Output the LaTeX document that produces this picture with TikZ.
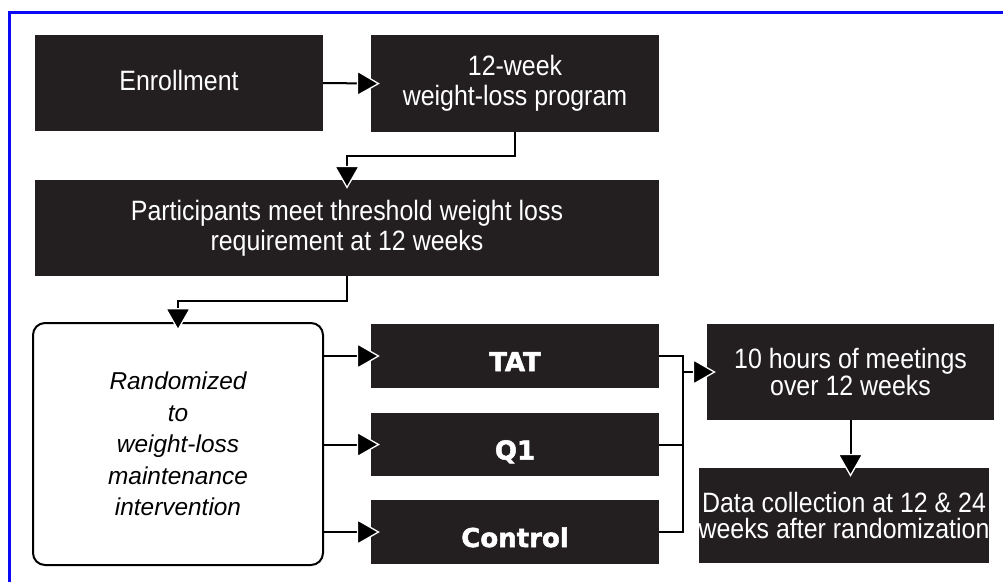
\documentclass[tikz,border=0pt]{standalone}
\usepackage{fontspec}
\usetikzlibrary{arrows.meta,calc}
\newfontfamily\condfont{Liberation Sans}[FakeStretch=0.89]
\newfontfamily\plainfont{Liberation Sans}
\newfontfamily\heavyfont{DejaVu Sans}[BoldFeatures={FakeBold=2}]
\definecolor{boxblack}{HTML}{231F20}
\definecolor{frameblue}{RGB}{10,10,245}
\tikzset{
  bx/.style={rectangle, fill=boxblack, text=white, inner sep=0pt, align=center,
    font=\condfont\fontsize{28}{30}\selectfont},
  bxtight/.style={bx, font=\condfont\fontsize{28}{26}\selectfont},
  bxbold/.style={bx, font=\heavyfont\bfseries\fontsize{26}{30}\selectfont,
    text height=30pt, text depth=0pt},
  rnd/.style={rectangle, rounded corners=12pt, draw=black, line width=2pt, fill=white,
    inner sep=0pt, align=center, font=\plainfont\itshape\fontsize{24.4}{31.5}\selectfont},
  conn/.style={draw=black, line width=2pt},
  arr/.style={conn, shorten >=-9pt,
    -{Triangle[length=23pt,width=26pt,color=white,fill=black,line width=1.3pt]}},
}
\begin{document}
\begin{tikzpicture}[x=1pt,y=-1pt]
\useasboundingbox (0,0) rectangle (1003,582);
% frame (only top and left edges visible)
\draw[frameblue, line width=3pt] (1003,12) -- (9,12) -- (9,582);

% nodes
\node[bx, minimum width=288pt, minimum height=96pt, text height=20pt, text depth=6pt] (enr) at (179,83) {Enrollment};
\node[bx, minimum width=288pt, minimum height=97pt] (wl) at (515,83.5) {12-week\\weight-loss program};
\node[bx, minimum width=624pt, minimum height=96pt] (part) at (347,228) {Participants meet threshold weight loss\\requirement at 12 weeks};
\node[rnd, minimum width=290pt, minimum height=242pt] (rand) at (178,444) {Randomized\\to\\weight-loss\\maintenance\\intervention};
\node[bxbold, minimum width=288pt, minimum height=64pt] (tat) at (515,356) {TAT};
\node[bxbold, minimum width=288pt, minimum height=63pt] (q1) at (515,444.5) {Q1};
\node[bxbold, minimum width=288pt, minimum height=64pt] (ctl) at (515,532) {Control};
\node[bxtight, minimum width=287pt, minimum height=96pt] (ten) at (850.5,372) {10 hours of meetings\\over 12 weeks};
\node[bxtight, minimum width=288pt, minimum height=95pt] (data) at (844,515.5) {Data collection at 12 \& 24\\weeks after randomization};

\coordinate (bus) at (683,372);

% connectors
\draw[arr] (enr.east) -- (wl.west);
\draw[arr] (wl.south) -- ++(0,24) -| (part.north);
\draw[arr] (part.north |- part.south) -- ++(0,25) -| (rand.north);
\draw[arr] (rand.east |- tat.west) -- (tat.west);
\draw[arr] (rand.east |- q1.west) -- (q1.west);
\draw[arr] (rand.east |- ctl.west) -- (ctl.west);
\draw[conn] (tat.east) -| (bus);
\draw[conn] (q1.east) -- (q1.east -| bus);
\draw[conn] (ctl.east) -| (bus);
\draw[arr] (bus) -- (ten.west);
\draw[arr] (ten.south) -- (ten.south |- data.north);
\end{tikzpicture}
\end{document}
